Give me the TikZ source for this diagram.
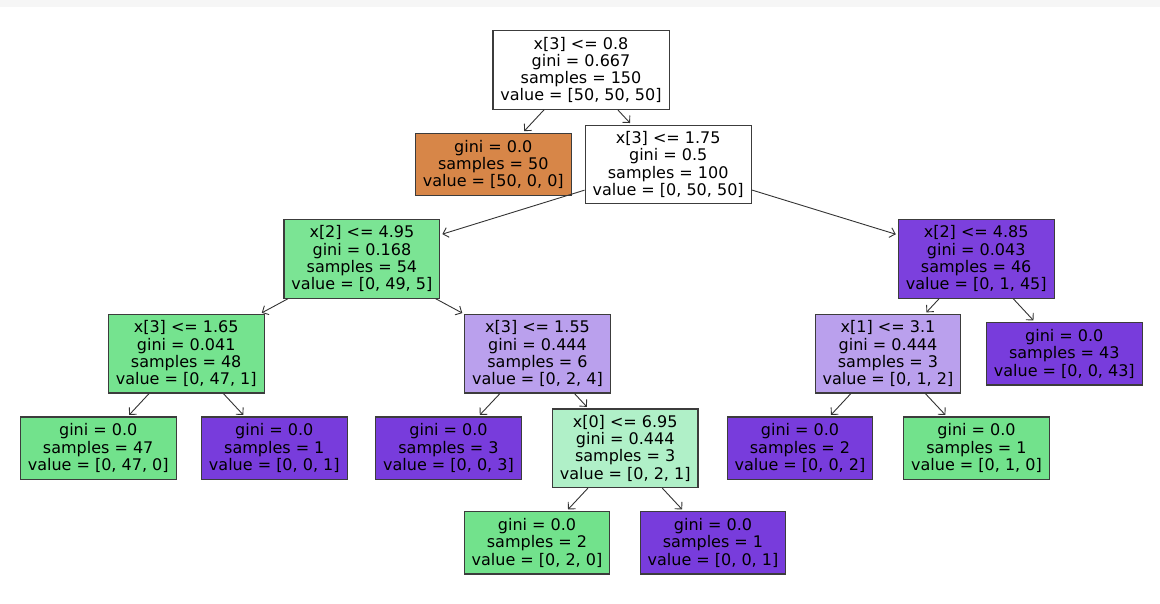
\documentclass[tikz,border=0pt]{standalone}
\usepackage{fontspec}
\setmainfont{DejaVu Sans}
\usetikzlibrary{arrows.meta,positioning}

\definecolor{clsorange}{RGB}{215,134,72}
\definecolor{clsgreen}{RGB}{114,226,140}
\definecolor{clsgreenA}{RGB}{123,228,148}
\definecolor{clsgreenB}{RGB}{117,227,143}
\definecolor{clsgreenL}{RGB}{176,240,200}
\definecolor{clspurple}{RGB}{120,60,220}
\definecolor{clspurpleA}{RGB}{124,64,221}
\definecolor{clspurpleL}{RGB}{186,160,237}
\definecolor{bandgray}{RGB}{246,246,246}
\definecolor{edgegray}{RGB}{60,60,60}

\begin{document}
\begin{tikzpicture}[
  x=1pt, y=-1pt,
  font=\fontsize{16pt}{17.3pt}\selectfont,
  >={Straight Barb[length=5pt,width=10pt]},
  split/.style ={draw=edgegray,line width=1.2pt,align=center,inner xsep=7.5pt,inner ysep=0pt,minimum height=78.6pt,fill=white},
  leaf/.style  ={draw=edgegray,line width=1.2pt,align=center,inner xsep=7.5pt,inner ysep=0pt,minimum height=62.4pt},
  arrow/.style ={->,draw=black!80,line width=0.9pt,shorten >=2pt}
]

\useasboundingbox (0,0) rectangle (1160,603);
\fill[bandgray] (0,0) rectangle (1160,7);

% ==================================================
% DEPTH 0 / 1
% ==================================================
\node[split] (root) at (581,70)
  {x[3] <= 0.8\\ gini = 0.667\\ samples = 150\\ value = [50, 50, 50]};
\node[leaf, fill=clsorange] (setosa) at (493.3,164.4)
  {gini = 0.0\\ samples = 50\\ value = [50, 0, 0]};
\node[split] (petalA) at (668.2,164.4)
  {x[3] <= 1.75\\ gini = 0.5\\ samples = 100\\ value = [0, 50, 50]};

% ==================================================
% DEPTH 2
% ==================================================
\node[split, fill=clsgreenA] (petalB) at (361.9,258.8)
  {x[2] <= 4.95\\ gini = 0.168\\ samples = 54\\ value = [0, 49, 5]};
\node[split, fill=clspurpleA] (petalC) at (976.2,258.8)
  {x[2] <= 4.85\\ gini = 0.043\\ samples = 46\\ value = [0, 1, 45]};

% ==================================================
% DEPTH 3
% ==================================================
\node[split, fill=clsgreenB] (petalD) at (186.2,353.7)
  {x[3] <= 1.65\\ gini = 0.041\\ samples = 48\\ value = [0, 47, 1]};
\node[split, fill=clspurpleL] (petalE) at (537.5,353.7)
  {x[3] <= 1.55\\ gini = 0.444\\ samples = 6\\ value = [0, 2, 4]};
\node[split, fill=clspurpleL] (sepalA) at (888,353.7)
  {x[1] <= 3.1\\ gini = 0.444\\ samples = 3\\ value = [0, 1, 2]};
\node[leaf, fill=clspurple] (leafC) at (1064.3,353.7)
  {gini = 0.0\\ samples = 43\\ value = [0, 0, 43]};

% ==================================================
% DEPTH 4
% ==================================================
\node[leaf, fill=clsgreen] (leafD1) at (98.2,448.2)
  {gini = 0.0\\ samples = 47\\ value = [0, 47, 0]};
\node[leaf, fill=clspurple] (leafD2) at (274.3,448.2)
  {gini = 0.0\\ samples = 1\\ value = [0, 0, 1]};
\node[leaf, fill=clspurple] (leafE1) at (448.5,448.2)
  {gini = 0.0\\ samples = 3\\ value = [0, 0, 3]};
\node[split, fill=clsgreenL] (sepalB) at (625.2,448.2)
  {x[0] <= 6.95\\ gini = 0.444\\ samples = 3\\ value = [0, 2, 1]};
\node[leaf, fill=clspurple] (leafA1) at (800,448.2)
  {gini = 0.0\\ samples = 2\\ value = [0, 0, 2]};
\node[leaf, fill=clsgreen] (leafA2) at (976.5,448.2)
  {gini = 0.0\\ samples = 1\\ value = [0, 1, 0]};

% ==================================================
% DEPTH 5
% ==================================================
\node[leaf, fill=clsgreen] (leafB1) at (537,542.7)
  {gini = 0.0\\ samples = 2\\ value = [0, 2, 0]};
\node[leaf, fill=clspurple] (leafB2) at (713,542.7)
  {gini = 0.0\\ samples = 1\\ value = [0, 0, 1]};

% ==================================================
% EDGES (center to center, clipped at boxes)
% ==================================================
\draw[arrow] (root)   -- (setosa);
\draw[arrow] (root)   -- (petalA);
\draw[arrow] (petalA) -- (petalB);
\draw[arrow] (petalA) -- (petalC);
\draw[arrow] (petalB) -- (petalD);
\draw[arrow] (petalB) -- (petalE);
\draw[arrow] (petalD) -- (leafD1);
\draw[arrow] (petalD) -- (leafD2);
\draw[arrow] (petalE) -- (leafE1);
\draw[arrow] (petalE) -- (sepalB);
\draw[arrow] (sepalB) -- (leafB1);
\draw[arrow] (sepalB) -- (leafB2);
\draw[arrow] (petalC) -- (sepalA);
\draw[arrow] (petalC) -- (leafC);
\draw[arrow] (sepalA) -- (leafA1);
\draw[arrow] (sepalA) -- (leafA2);

\end{tikzpicture}
\end{document}
